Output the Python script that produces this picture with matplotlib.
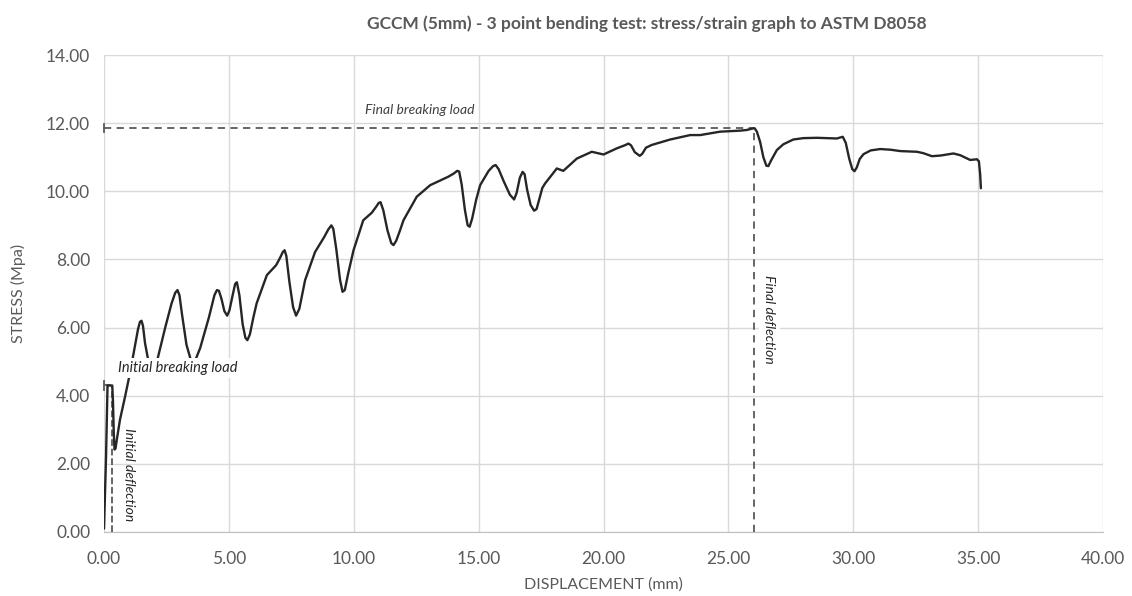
import numpy as np
from matplotlib import pyplot as plt

plt.rcParams['font.family'] = ['Lato', 'DejaVu Sans']

# 位移 (mm) 和 应力 (MPa)，从图上读出来的
displacement = [0.0, 0.08, 0.14, 0.33, 0.36, 0.39, 0.42, 0.46, 0.52, 0.64,
                0.85, 1.04, 1.25, 1.36, 1.44, 1.50, 1.56, 1.64, 1.78, 1.95,
                2.15, 2.45, 2.70, 2.85, 2.94, 3.02, 3.12, 3.30, 3.55, 3.85,
                4.20, 4.42, 4.52, 4.60, 4.70, 4.82, 4.93, 5.02, 5.15, 5.25,
                5.32, 5.42, 5.55, 5.66, 5.74, 5.84, 5.98, 6.11, 6.52, 6.89,
                7.05, 7.16, 7.23, 7.30, 7.42, 7.57, 7.69, 7.82, 8.05, 8.45,
                8.81, 8.98, 9.10, 9.18, 9.30, 9.45, 9.55, 9.64, 9.78, 9.99,
                10.38, 10.72, 10.90, 11.00, 11.07, 11.18, 11.35, 11.50, 11.59, 11.70,
                11.85, 11.99, 12.52, 13.06, 13.79, 14.00, 14.14, 14.22, 14.32, 14.45,
                14.56, 14.64, 14.74, 14.90, 15.06, 15.40, 15.58, 15.68, 15.80, 16.00,
                16.25, 16.42, 16.52, 16.65, 16.76, 16.84, 16.94, 17.08, 17.22, 17.32,
                17.42, 17.55, 17.66, 18.13, 18.39, 18.93, 19.53, 20.00, 20.53, 20.85,
                21.00, 21.10, 21.25, 21.45, 21.55, 21.70, 21.93, 22.67, 23.47, 23.87,
                24.67, 25.47, 25.74, 25.95, 26.05, 26.14, 26.27, 26.40, 26.52, 26.60,
                26.72, 26.94, 27.20, 27.60, 28.00, 28.54, 29.34, 29.48, 29.58, 29.70,
                29.84, 29.96, 30.05, 30.14, 30.26, 30.41, 30.70, 31.08, 31.50, 31.88,
                32.55, 32.80, 33.15, 33.50, 34.01, 34.28, 34.68, 34.95, 35.03, 35.08,
                35.11]
stress = [0.10, 2.20, 4.30, 4.30, 3.80, 2.90, 2.42, 2.45, 2.75, 3.30,
          4.00, 4.67, 5.50, 5.95, 6.17, 6.20, 6.05, 5.55, 5.00, 4.75,
          5.10, 6.00, 6.70, 7.02, 7.10, 6.95, 6.40, 5.50, 4.85, 5.40,
          6.30, 6.95, 7.10, 7.08, 6.85, 6.48, 6.35, 6.50, 6.95, 7.28,
          7.33, 6.95, 6.10, 5.70, 5.63, 5.80, 6.30, 6.71, 7.54, 7.83,
          8.05, 8.22, 8.27, 8.10, 7.35, 6.60, 6.35, 6.55, 7.39, 8.22,
          8.65, 8.88, 9.00, 8.90, 8.30, 7.40, 7.05, 7.10, 7.60, 8.27,
          9.15, 9.37, 9.55, 9.66, 9.68, 9.45, 8.85, 8.48, 8.42, 8.55,
          8.85, 9.15, 9.84, 10.18, 10.43, 10.52, 10.60, 10.58, 10.20, 9.45,
          9.00, 8.96, 9.20, 9.75, 10.18, 10.60, 10.74, 10.77, 10.65, 10.30,
          9.90, 9.76, 9.95, 10.40, 10.57, 10.50, 10.05, 9.60, 9.43, 9.48,
          9.75, 10.10, 10.23, 10.67, 10.60, 10.96, 11.16, 11.08, 11.26, 11.35,
          11.40, 11.35, 11.15, 11.04, 11.10, 11.28, 11.36, 11.52, 11.65, 11.65,
          11.75, 11.78, 11.80, 11.84, 11.85, 11.75, 11.45, 11.00, 10.75, 10.74,
          10.92, 11.21, 11.38, 11.52, 11.56, 11.57, 11.55, 11.58, 11.60, 11.42,
          10.95, 10.65, 10.59, 10.70, 10.95, 11.09, 11.20, 11.24, 11.22, 11.18,
          11.16, 11.12, 11.03, 11.05, 11.11, 11.06, 10.92, 10.94, 10.88, 10.50,
          10.09]

# 标注点
initial_deflection = 0.31
initial_load = 4.30
final_deflection = 26.03
final_load = 11.85

x_ticks = [0, 5, 10, 15, 20, 25, 30, 35, 40]
y_ticks = [0, 2, 4, 6, 8, 10, 12, 14]

grey = '#595959'

fig = plt.figure(figsize=(11.32, 5.96), dpi=100)
ax = fig.add_axes([0.0919, 0.1074, 0.8825, 0.8003])

ax.plot(displacement, stress, color='#262626', linewidth=1.7, zorder=3,
        solid_joinstyle='round', solid_capstyle='round')

# 虚线
ax.plot([0, initial_deflection], [initial_load, initial_load], color=grey,
        linestyle='--', linewidth=1.3, zorder=2)
ax.plot([initial_deflection, initial_deflection], [0, initial_load], color=grey,
        linestyle='--', linewidth=1.3, zorder=2)
ax.plot([0, final_deflection], [final_load, final_load], color=grey,
        linestyle=(0, (4, 3)), linewidth=1.3, zorder=2)
ax.plot([final_deflection, final_deflection], [0, final_load], color=grey,
        linestyle=(0, (4, 3)), linewidth=1.3, zorder=2)
# 左边的小竖线
for load in [initial_load, final_load]:
    ax.plot([0, 0], [load - 0.12, load + 0.12], color=grey, linewidth=1.3,
            clip_on=False)

ax.text(12.66, 12.38, 'Final breaking load', style='italic', fontsize=10,
        color='#404040', ha='center', va='center')
ax.text(2.95, 4.81, 'Initial breaking load', style='italic', fontsize=10.5,
        color='#262626', ha='center', va='center', zorder=4,
        bbox=dict(facecolor='white', edgecolor='none', pad=2))
ax.text(0.98, 1.67, 'Initial deflection', style='italic', fontsize=10,
        color='#262626', rotation=-90, ha='center', va='center', zorder=4)
ax.text(26.64, 6.25, 'Final deflection', style='italic', fontsize=10,
        color='#262626', rotation=-90, ha='center', va='center', zorder=4,
        bbox=dict(facecolor='white', edgecolor='none', pad=3))

ax.set_xlim(0, 40)
ax.set_ylim(0, 14)
ax.set_xticks(x_ticks)
ax.set_yticks(y_ticks)
ax.set_xticklabels(['%.2f' % v for v in x_ticks])
ax.set_yticklabels(['%.2f' % v for v in y_ticks])
ax.tick_params(colors=grey, labelsize=12.5, length=0)
ax.tick_params(axis='x', pad=14)
ax.tick_params(axis='y', pad=10)
ax.grid(True, color='#d9d9d9', linewidth=1)
ax.set_axisbelow(True)
for s in ['top', 'right', 'left']:
    ax.spines[s].set_visible(False)
ax.spines['bottom'].set_color('#bfbfbf')

ax.set_xlabel('DISPLACEMENT (mm)', color=grey, fontsize=11.5, labelpad=7)
ax.set_ylabel('STRESS (Mpa)', color=grey, fontsize=11.5, labelpad=14)

fig.text(0.571, 0.960, 'GCCM (5mm) - 3 point bending test: stress/strain graph to ASTM D8058',
         ha='center', va='center', fontsize=12.5, fontweight='bold', color=grey)

fig.savefig('out.png', dpi=100)
